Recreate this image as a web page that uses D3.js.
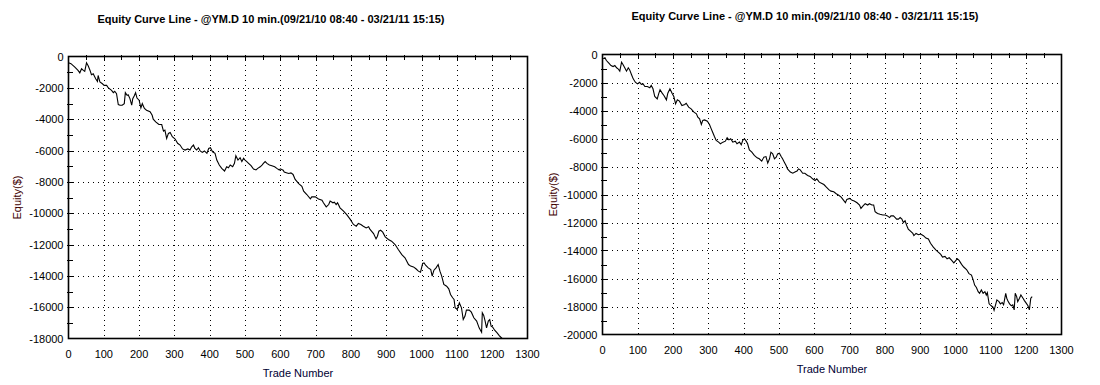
<!DOCTYPE html>
<html><head><meta charset="utf-8">
<script src="https://cdn.jsdelivr.net/npm/d3@7"></script>
<style>
body{margin:0;background:#fff}
svg{display:block}
text{font-family:"Liberation Sans",Arial,Helvetica,sans-serif}
</style>
</head><body>
<svg id="c" width="1100" height="385"></svg>
<script>
const titleText = "Equity Curve Line - @YM.D 10 min.(09/21/10 08:40 - 03/21/11 15:15)";
const xTitle = "Trade Number";
const yTitle = "Equity($)";
const xTicks = [0,100,200,300,400,500,600,700,800,900,1000,1100,1200,1300];
const leftYTicks = [0,-2000,-4000,-6000,-8000,-10000,-12000,-14000,-16000,-18000];
const rightYTicks = [0,-2000,-4000,-6000,-8000,-10000,-12000,-14000,-16000,-18000,-20000];

const leftTrades = [0,7,18,27,32,37,42,46,51,56,61,65,70,77,82,84,89,96,101,108,113,122,127,131,136,141,146,152,158,161,166,169,174,179,182,186,190,194,200,205,209,215,221,231,237,240,247,256,264,269,273,278,283,288,294,302,309,316,323,330,338,344,349,354,358,363,368,373,379,385,392,397,402,408,415,420,427,434,442,448,453,458,465,470,474,480,486,491,496,500,505,510,517,524,531,536,543,548,552,557,562,569,576,584,590,597,600,608,611,619,624,630,636,642,652,661,666,675,685,689,699,708,718,722,730,737,741,749,753,758,762,769,779,788,798,807,815,821,828,835,843,850,854,864,871,875,879,884,890,897,906,915,925,934,944,953,963,969,977,984,991,997,1003,1007,1012,1019,1026,1030,1035,1041,1047,1052,1057,1063,1071,1077,1082,1088,1092,1095,1101,1107,1113,1118,1123,1127,1135,1141,1148,1156,1163,1170,1172,1176,1180,1184,1189,1193,1197,1201,1207,1214,1220,1228];
const leftEquity = [-400,-460,-680,-890,-1040,-780,-890,-950,-400,-610,-890,-1160,-1100,-1420,-1590,-1210,-1630,-1740,-1840,-1840,-2010,-2160,-2310,-2220,-2370,-3070,-3110,-3110,-3010,-2310,-2480,-2440,-2690,-3110,-2690,-2520,-2310,-2650,-2790,-3280,-3010,-3320,-3430,-3530,-3750,-4000,-4170,-4340,-4340,-4760,-4700,-5230,-4910,-4850,-5120,-5270,-5540,-5650,-5900,-5970,-5900,-5970,-5760,-5650,-5870,-5970,-5820,-6030,-6120,-6030,-6180,-5870,-5820,-6080,-6180,-6610,-6930,-7140,-7310,-7040,-7100,-6930,-7040,-6820,-6330,-6610,-6460,-6710,-6500,-6610,-6710,-6820,-6970,-7180,-7240,-7140,-7040,-6930,-6820,-6710,-6820,-6930,-6970,-7040,-7140,-7240,-7170,-7255,-7380,-7430,-7470,-7430,-7530,-7850,-8110,-8280,-8600,-8810,-9090,-8960,-8960,-9090,-9170,-9340,-9600,-9450,-9230,-9340,-9300,-9450,-9340,-9660,-9870,-10090,-10400,-10720,-10830,-10660,-10720,-10830,-10940,-10870,-11040,-11300,-11640,-11470,-11150,-11090,-11210,-11510,-11680,-11790,-12000,-12320,-12640,-12850,-13280,-13380,-13430,-13550,-13700,-13770,-13210,-13170,-13340,-13490,-13600,-14020,-13640,-13490,-13280,-13700,-14020,-14550,-14660,-14830,-15190,-15400,-15510,-16040,-16150,-15720,-16040,-16790,-16570,-16190,-16190,-16320,-16680,-16890,-17320,-17600,-16360,-16530,-16890,-17320,-16890,-16790,-17210,-17260,-17470,-17640,-17810,-18000];

const rightTrades = [2,7,11,18,24,30,35,40,44,49,54,58,63,68,73,77,82,87,93,99,105,110,115,120,127,134,138,143,148,155,159,163,169,174,181,185,191,197,202,207,212,218,225,233,237,244,251,259,266,270,275,280,284,289,297,303,308,312,317,322,329,334,341,348,353,358,363,369,376,381,388,393,397,402,407,411,416,423,430,438,444,451,457,463,468,473,477,482,487,492,496,501,506,510,515,520,524,532,539,545,551,555,560,567,573,581,588,595,602,607,614,620,627,634,641,647,655,662,669,676,683,688,692,700,707,713,721,728,732,738,744,751,756,763,768,772,779,786,794,801,807,813,817,824,829,833,838,843,848,852,857,862,866,873,879,882,888,895,901,909,916,923,929,937,944,951,958,963,970,976,982,989,995,1001,1005,1010,1017,1023,1031,1038,1045,1050,1054,1059,1064,1068,1073,1078,1083,1087,1090,1095,1101,1106,1109,1114,1117,1123,1127,1132,1136,1142,1145,1149,1153,1158,1162,1166,1169,1173,1176,1181,1185,1191,1195,1200,1205,1209,1213,1217];
const rightEquity = [-310,-240,-430,-620,-790,-860,-790,-950,-1020,-1190,-550,-710,-950,-1190,-950,-1100,-1430,-1740,-1980,-2100,-1980,-2140,-2100,-2290,-2290,-2380,-2210,-2450,-3000,-3170,-2810,-2520,-2760,-2930,-3240,-2760,-2450,-2760,-3000,-3520,-3240,-3330,-3640,-3570,-3480,-3760,-3880,-4120,-4240,-4480,-4600,-5000,-4710,-4670,-4760,-5000,-5310,-5550,-5860,-6140,-6260,-6380,-6260,-6190,-5950,-6100,-6020,-6260,-6190,-6380,-6260,-6450,-6140,-6020,-6190,-6380,-6810,-6980,-7210,-7380,-7450,-7620,-7330,-7290,-7760,-7450,-6980,-7100,-7450,-7330,-7100,-7050,-7290,-7450,-7690,-7930,-8170,-8400,-8480,-8400,-8330,-8170,-8240,-8480,-8480,-8640,-8710,-8880,-9000,-8880,-9120,-9190,-9290,-9480,-9650,-9760,-9810,-9950,-10050,-10190,-10420,-10590,-10350,-10280,-10420,-10470,-10590,-10750,-10990,-10820,-10660,-10750,-10660,-10750,-10750,-11220,-11360,-11410,-11460,-11460,-11530,-11650,-11530,-11530,-11650,-11760,-11760,-11650,-11760,-12000,-11880,-12240,-12470,-12640,-12780,-12940,-12780,-12870,-12820,-12940,-13110,-13180,-13480,-13760,-13950,-14120,-14280,-14470,-14420,-14590,-14520,-14710,-14890,-14710,-14590,-14710,-14990,-15180,-15360,-15650,-15760,-16120,-16470,-16640,-16940,-17060,-16820,-17060,-16940,-17180,-17010,-17810,-17950,-18050,-18280,-17810,-17530,-17650,-17810,-17720,-17880,-17060,-17410,-17650,-17810,-17950,-17880,-18240,-17060,-17290,-17650,-17410,-17180,-17410,-17580,-17760,-17950,-18240,-17410,-17290];

const svg = d3.select("#c");

function drawChart(cfg) {
  const g = svg.append("g");
  const x = d3.scaleLinear().domain([0, 1300]).range([cfg.left, cfg.right]);
  const y = d3.scaleLinear().domain([cfg.yMin, 0]).range([cfg.bottom, cfg.top]);
  const clipId = "clip" + cfg.id;
  svg.append("clipPath").attr("id", clipId).append("rect")
    .attr("x", cfg.left).attr("y", cfg.top)
    .attr("width", cfg.right - cfg.left).attr("height", cfg.bottom - cfg.top);

  // grid
  const grid = g.append("g").attr("stroke", "#000").attr("stroke-width", 1)
    .attr("stroke-dasharray", "1,4").attr("shape-rendering", "crispEdges");
  grid.selectAll("line.v").data(xTicks.filter(t => t > 0 && t < 1300)).join("line")
    .attr("x1", d => Math.round(x(d)) + 0.5).attr("x2", d => Math.round(x(d)) + 0.5)
    .attr("y1", cfg.top + 3).attr("y2", cfg.bottom);
  grid.selectAll("line.h").data(cfg.yTicks.filter(t => t < 0 && t > cfg.yMin)).join("line")
    .attr("y1", d => Math.round(y(d)) + 0.5).attr("y2", d => Math.round(y(d)) + 0.5)
    .attr("x1", cfg.left + 4).attr("x2", cfg.right);

  // minor ticks top (every 50) and left (every 1000)
  const tk = g.append("g").attr("stroke", "#000").attr("stroke-width", 1).attr("shape-rendering", "crispEdges");
  tk.selectAll("line.t").data(d3.range(50, 1300, 50)).join("line")
    .attr("x1", d => Math.round(x(d)) + 0.5).attr("x2", d => Math.round(x(d)) + 0.5)
    .attr("y1", cfg.top - 2).attr("y2", cfg.top + 3);
  tk.selectAll("line.l").data(d3.range(-1000, cfg.yMin, -1000)).join("line")
    .attr("y1", d => Math.round(y(d)) + 0.5).attr("y2", d => Math.round(y(d)) + 0.5)
    .attr("x1", cfg.left - 2).attr("x2", cfg.left + 4);

  // line
  const line = d3.line().x(d => x(d[0])).y(d => y(d[1]));
  g.append("path").datum(d3.zip(cfg.trades, cfg.equity))
    .attr("clip-path", `url(#${clipId})`)
    .attr("fill", "none").attr("stroke", "#000").attr("stroke-width", 1.1)
    .attr("stroke-linejoin", "miter").attr("d", line);

  // frame
  g.append("rect").attr("x", cfg.left).attr("y", cfg.top)
    .attr("width", cfg.right - cfg.left).attr("height", cfg.bottom - cfg.top)
    .attr("fill", "none").attr("stroke", "#000").attr("stroke-width", 1.6);

  // tick labels
  g.append("g").selectAll("text").data(xTicks).join("text")
    .attr("x", d => x(d)).attr("y", cfg.bottom + cfg.xLabelDy)
    .attr("text-anchor", "middle").attr("font-size", 11).attr("fill", "#000")
    .text(d => d);
  g.append("g").selectAll("text").data(cfg.yTicks).join("text")
    .attr("x", cfg.left - 5).attr("y", d => y(d) + 4)
    .attr("text-anchor", "end").attr("font-size", 11).attr("fill", "#000")
    .text(d => d);

  // titles
  g.append("text").attr("x", cfg.titleX).attr("y", cfg.titleY)
    .attr("text-anchor", "middle").attr("font-size", 11).attr("font-weight", "bold")
    .attr("fill", "#000").text(titleText);
  g.append("text").attr("x", (cfg.left + cfg.right) / 2).attr("y", cfg.xTitleY)
    .attr("text-anchor", "middle").attr("font-size", 11).attr("fill", "#000033").text(xTitle);
  g.append("text").attr("transform", `translate(${cfg.yTitleX},${(cfg.top + cfg.bottom) / 2}) rotate(-90)`)
    .attr("text-anchor", "middle").attr("font-size", 11).attr("fill", "#400000").text(yTitle);
}

drawChart({id: 1, left: 68.5, right: 527.5, top: 56.5, bottom: 338.5, yMin: -18000,
  yTicks: leftYTicks, trades: leftTrades, equity: leftEquity,
  xLabelDy: 19, titleX: 271, titleY: 23, xTitleY: 377, yTitleX: 21});
drawChart({id: 2, left: 602.5, right: 1061.5, top: 54.5, bottom: 334.5, yMin: -20000,
  yTicks: rightYTicks, trades: rightTrades, equity: rightEquity,
  xLabelDy: 19, titleX: 805, titleY: 20, xTitleY: 373, yTitleX: 557});
</script>
</body></html>
